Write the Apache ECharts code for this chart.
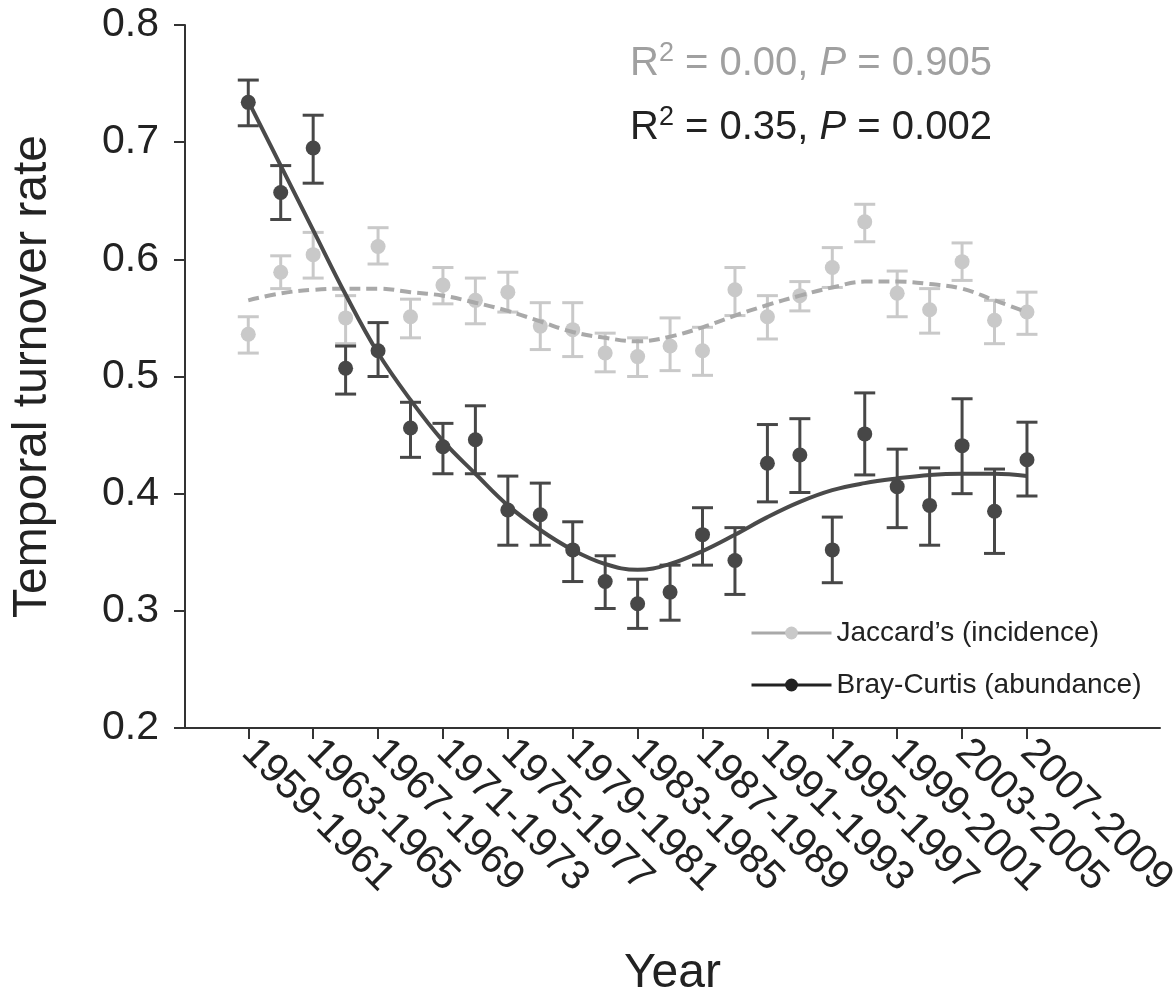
<!DOCTYPE html>
<html>
<head>
<meta charset="utf-8">
<script src="https://cdn.jsdelivr.net/npm/echarts@6/dist/echarts.min.js"></script>
<style>
  html, body { margin: 0; padding: 0; background: #fff; }
  #turnover { width: 1174px; height: 994px; }
</style>
</head>
<body>
<div id="turnover"></div>
<script>
  // sampling periods (one point each), labels shown on every second one
  var periods = ['1959-1961', '1961-1963', '1963-1965', '1965-1967', '1967-1969', '1969-1971',
    '1971-1973', '1973-1975', '1975-1977', '1977-1979', '1979-1981', '1981-1983', '1983-1985',
    '1985-1987', '1987-1989', '1989-1991', '1991-1993', '1993-1995', '1995-1997', '1997-1999',
    '1999-2001', '2001-2003', '2003-2005', '2005-2007', '2007-2009'];
  var tickIdx = [0, 2, 4, 6, 8, 10, 12, 14, 16, 18, 20, 22, 24];
  var yTicks = [0.2, 0.3, 0.4, 0.5, 0.6, 0.7, 0.8];

  // Jaccard's (incidence)
  var jacMean = [0.536, 0.589, 0.604, 0.550, 0.611, 0.551, 0.578, 0.565, 0.572, 0.543, 0.540, 0.520, 0.517,
    0.526, 0.522, 0.574, 0.551, 0.569, 0.593, 0.632, 0.571, 0.557, 0.598, 0.548, 0.555];
  var jacLo = [0.520, 0.575, 0.584, 0.528, 0.596, 0.533, 0.562, 0.545, 0.555, 0.523, 0.517, 0.504, 0.500,
    0.505, 0.501, 0.552, 0.532, 0.556, 0.576, 0.615, 0.551, 0.537, 0.582, 0.528, 0.536];
  var jacHi = [0.551, 0.603, 0.623, 0.569, 0.627, 0.566, 0.593, 0.584, 0.589, 0.563, 0.563, 0.537, 0.533,
    0.550, 0.542, 0.593, 0.569, 0.581, 0.610, 0.647, 0.590, 0.575, 0.614, 0.565, 0.572];
  var jacFit = [0.565, 0.571, 0.574, 0.575, 0.575, 0.572, 0.569, 0.563, 0.556, 0.547, 0.538, 0.533, 0.530,
    0.534, 0.542, 0.552, 0.561, 0.569, 0.576, 0.581, 0.581, 0.579, 0.575, 0.565, 0.555];

  // Bray-Curtis (abundance)
  var bcMean = [0.734, 0.657, 0.695, 0.507, 0.522, 0.456, 0.440, 0.446, 0.386, 0.382, 0.352, 0.325, 0.306,
    0.316, 0.365, 0.343, 0.426, 0.433, 0.352, 0.451, 0.406, 0.390, 0.441, 0.385, 0.429];
  var bcLo = [0.714, 0.634, 0.665, 0.485, 0.500, 0.431, 0.417, 0.417, 0.356, 0.356, 0.325, 0.302, 0.285,
    0.292, 0.339, 0.314, 0.393, 0.401, 0.324, 0.416, 0.371, 0.356, 0.400, 0.349, 0.398];
  var bcHi = [0.753, 0.680, 0.723, 0.526, 0.546, 0.478, 0.460, 0.475, 0.415, 0.409, 0.376, 0.347, 0.327,
    0.339, 0.388, 0.371, 0.459, 0.464, 0.380, 0.486, 0.438, 0.422, 0.481, 0.421, 0.461];
  var bcFit = [0.735, 0.680, 0.625, 0.570, 0.520, 0.480, 0.445, 0.417, 0.390, 0.369, 0.352, 0.340, 0.335,
    0.340, 0.351, 0.365, 0.380, 0.393, 0.403, 0.409, 0.413, 0.416, 0.417, 0.417, 0.415];

  var FONT = "'Liberation Sans', Arial, sans-serif";
  var DARK = '#474747';
  var LIGHT = '#c9c9c9';

  function pairs(arr) {
    return arr.map(function (v, i) { return [i, v]; });
  }

  function errorBars(lo, hi, color, z) {
    return {
      type: 'custom',
      silent: true,
      z: z,
      encode: { x: 0, y: [1, 2] },
      data: lo.map(function (v, i) { return [i, v, hi[i]]; }),
      renderItem: function (params, api) {
        var x = api.value(0);
        var a = api.coord([x, api.value(1)]);
        var b = api.coord([x, api.value(2)]);
        var half = 10.5;
        var st = { stroke: color, lineWidth: 3 };
        return {
          type: 'group',
          children: [
            { type: 'line', shape: { x1: a[0], y1: a[1], x2: b[0], y2: b[1] }, style: st },
            { type: 'line', shape: { x1: a[0] - half, y1: a[1], x2: a[0] + half, y2: a[1] }, style: st },
            { type: 'line', shape: { x1: b[0] - half, y1: b[1], x2: b[0] + half, y2: b[1] }, style: st }
          ]
        };
      }
    };
  }

  function statLine(r2, p, color) {
    return {
      text: '{r|R}{s|2}{r| = ' + r2 + ', }{i|P}{r| = ' + p + '}',
      fill: color,
      rich: {
        r: { fontSize: 40, fontFamily: FONT, fill: color },
        s: { fontSize: 27, fontFamily: FONT, fill: color, padding: [0, 0, 20, 0] },
        i: { fontSize: 40, fontFamily: FONT, fontStyle: 'italic', fill: color }
      }
    };
  }

  var chart = echarts.init(document.getElementById('turnover'));
  chart.setOption({
    animation: false,
    textStyle: { fontFamily: FONT },
    grid: { left: 185, right: 14, top: 25, bottom: 266, outerBoundsMode: 'none', containLabel: false },
    legend: {
      orient: 'vertical',
      left: 745,
      top: 614,
      itemWidth: 80,
      itemHeight: 16,
      itemGap: 24,
      selectedMode: false,
      textStyle: { fontSize: 28, color: '#222', fontFamily: FONT },
      data: [
        { name: "Jaccard’s (incidence)", lineStyle: { type: 'solid', color: '#a9a9a9', width: 3 } },
        { name: 'Bray-Curtis (abundance)', lineStyle: { type: 'solid', color: '#222', width: 3 }, itemStyle: { color: '#222' } }
      ]
    },
    xAxis: {
      type: 'value',
      min: -1.95,
      max: 28.1,
      name: 'Year',
      nameLocation: 'middle',
      nameGap: 222,
      nameMoveOverlap: false,
      nameTextStyle: { fontSize: 48, color: '#222', fontFamily: FONT },
      splitLine: { show: false },
      axisLine: { onZero: false, lineStyle: { color: '#333', width: 2 } },
      axisTick: { customValues: tickIdx, length: 11, lineStyle: { color: '#333', width: 2 } },
      axisLabel: {
        customValues: tickIdx,
        rotate: -45,
        margin: 18,
        fontSize: 41,
        color: '#222',
        formatter: function (v) { return periods[Math.round(v)]; }
      }
    },
    yAxis: {
      type: 'value',
      min: 0.2,
      max: 0.8,
      interval: 0.1,
      name: 'Temporal turnover rate',
      nameLocation: 'middle',
      nameGap: 128,
      nameMoveOverlap: false,
      nameTextStyle: { fontSize: 48, color: '#222', fontFamily: FONT },
      splitLine: { show: false },
      axisLine: { show: true, onZero: false, lineStyle: { color: '#333', width: 2 } },
      axisTick: { show: true, length: 11, lineStyle: { color: '#333', width: 2 } },
      axisLabel: {
        fontSize: 41,
        color: '#222',
        margin: 26,
        customValues: yTicks,
        formatter: function (v) { return v.toFixed(1); }
      }
    },
    graphic: [
      { type: 'text', left: 630, top: 40, silent: true, style: statLine('0.00', '0.905', '#a0a0a0') },
      { type: 'text', left: 630, top: 104, silent: true, style: statLine('0.35', '0.002', '#222') }
    ],
    series: [
      errorBars(jacLo, jacHi, LIGHT, 2),
      {
        type: 'scatter',
        z: 3,
        silent: true,
        symbolSize: 15,
        itemStyle: { color: LIGHT, opacity: 1 },
        data: pairs(jacMean)
      },
      {
        name: "Jaccard’s (incidence)",
        type: 'line',
        z: 4,
        smooth: 0.4,
        symbol: 'circle',
        symbolSize: 13,
        showSymbol: false,
        itemStyle: { color: LIGHT },
        lineStyle: { color: '#a9a9a9', width: 4, type: [11, 6] },
        data: pairs(jacFit)
      },
      {
        name: 'Bray-Curtis (abundance)',
        type: 'line',
        z: 5,
        smooth: 0.4,
        symbol: 'circle',
        symbolSize: 13,
        showSymbol: false,
        itemStyle: { color: '#222' },
        lineStyle: { color: '#4a4a4a', width: 4 },
        data: pairs(bcFit)
      },
      errorBars(bcLo, bcHi, DARK, 6),
      {
        type: 'scatter',
        z: 7,
        silent: true,
        symbolSize: 15,
        itemStyle: { color: DARK, opacity: 1 },
        data: pairs(bcMean)
      }
    ]
  });
</script>
</body>
</html>
